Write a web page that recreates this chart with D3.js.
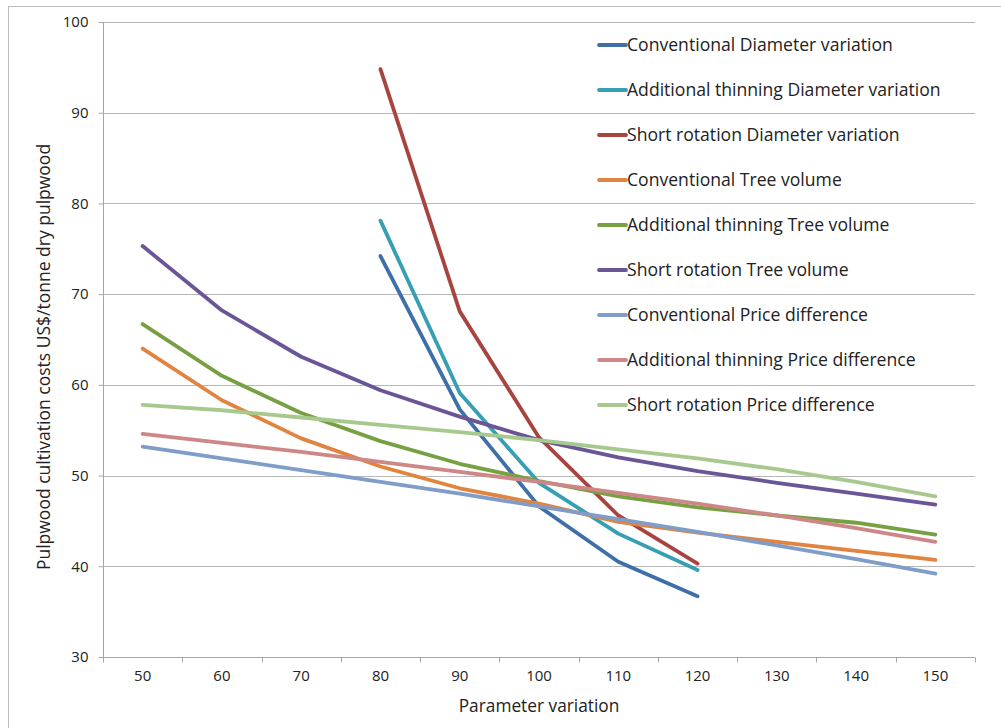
<!DOCTYPE html>
<html>
<head>
<meta charset="utf-8">
<script src="https://cdn.jsdelivr.net/npm/d3@7"></script>
<style>
  body { margin: 0; background: #fff; }
  text { font-family: "Open Sans", sans-serif; fill: #222; }
</style>
</head>
<body>
<div class="chart-box"></div>
<script>
let width = 1001, height = 728;

// data
let categories = [50, 60, 70, 80, 90, 100, 110, 120, 130, 140, 150];
let yTicks = [30, 40, 50, 60, 70, 80, 90, 100];

let convDiameter   = [null, null, null, 74.2, 57.3, 46.6, 40.5, 36.7, null, null, null];
let addDiameter    = [null, null, null, 78.1, 59.1, 49.2, 43.6, 39.6, null, null, null];
let shortDiameter  = [null, null, null, 94.8, 68.1, 54.2, 45.6, 40.3, null, null, null];
let convVolume     = [64.0, 58.3, 54.1, 51.0, 48.6, 46.9, 44.9, 43.7, 42.7, 41.7, 40.7];
let addVolume      = [66.7, 61.0, 56.9, 53.8, 51.3, 49.4, 47.7, 46.5, 45.6, 44.8, 43.5];
let shortVolume    = [75.3, 68.2, 63.1, 59.4, 56.5, 53.9, 52.0, 50.5, 49.2, 48.0, 46.8];
let convPrice      = [53.2, 51.9, 50.6, 49.3, 48.0, 46.6, 45.2, 43.8, 42.3, 40.8, 39.2];
let addPrice       = [54.6, 53.6, 52.6, 51.5, 50.4, 49.3, 48.1, 46.9, 45.6, 44.2, 42.7];
let shortPrice     = [57.8, 57.2, 56.4, 55.6, 54.8, 53.9, 52.9, 51.9, 50.7, 49.3, 47.7];

let seriesNames = [
  "Conventional Diameter variation",
  "Additional thinning Diameter variation",
  "Short rotation Diameter variation",
  "Conventional Tree volume",
  "Additional thinning Tree volume",
  "Short rotation Tree volume",
  "Conventional Price difference",
  "Additional thinning Price difference",
  "Short rotation Price difference"
];
let seriesValues = [convDiameter, addDiameter, shortDiameter, convVolume, addVolume,
  shortVolume, convPrice, addPrice, shortPrice];
let seriesColors = ["#3f6fa8", "#379fb4", "#a8443f", "#e0843f", "#77a043",
  "#6a5597", "#809dca", "#cd8786", "#a7c98d"];

let series = seriesNames.map(function (name, i) {
  return { name: name, color: seriesColors[i], values: seriesValues[i] };
});

let margin = { left: 103, right: 26, top: 22, bottom: 71 };

let svg = d3.select('.chart-box')
  .append('svg')
  .attr('width', width)
  .attr('height', height);

// chart outer border
svg.append("rect")
  .attr("x", 8.5).attr("y", 6.5)
  .attr("width", width + 20).attr("height", height + 20)
  .attr("fill", "none")
  .attr("stroke", "#bdbdbd");

let x = d3.scaleBand()
  .domain(categories)
  .range([margin.left, width - margin.right]);

let y = d3.scaleLinear()
  .domain([30, 100])
  .range([height - margin.bottom, margin.top]);

// gridlines
svg.append("g")
  .attr("class", "grid")
  .selectAll("line")
  .data(yTicks.slice(1))
  .enter()
  .append("line")
  .attr("x1", margin.left)
  .attr("x2", width - margin.right)
  .attr("y1", function (d) { return Math.round(y(d)) + 0.5; })
  .attr("y2", function (d) { return Math.round(y(d)) + 0.5; })
  .attr("stroke", "#b8b8b8")
  .attr("stroke-width", 1);

// y axis
let yAxis = svg.append("g")
  .attr("transform", "translate(" + (margin.left + 0.5) + ",0)")
  .call(d3.axisLeft(y).tickValues(yTicks).tickSize(5).tickPadding(10));

// x axis with ticks between categories
let xAxis = svg.append("g")
  .attr("transform", "translate(0," + (Math.round(y(30)) + 0.5) + ")")
  .call(d3.axisBottom(x).tickSize(0).tickPadding(13));

let bounds = categories.map(function (c) { return x(c); }).concat([x.range()[1]]);
xAxis.selectAll(".between")
  .data(bounds)
  .enter()
  .append("line")
  .attr("class", "between")
  .attr("x1", function (d) { return Math.round(d) + 0.5; })
  .attr("x2", function (d) { return Math.round(d) + 0.5; })
  .attr("y1", 0)
  .attr("y2", 5)
  .attr("stroke", "#a6a6a6");

[xAxis, yAxis].forEach(function (a) {
  a.selectAll(".domain").attr("stroke", "#a6a6a6");
  a.selectAll(".tick line").attr("stroke", "#a6a6a6");
  a.selectAll("text")
    .style("font-family", "'Open Sans', sans-serif")
    .style("font-size", "15px")
    .attr("fill", "#222");
});
yAxis.select(".domain").attr("d", "M0," + y(30) + "V" + y(100));
xAxis.select(".domain").attr("d", "M" + margin.left + ",0H" + (width - margin.right));

// lines
let line = d3.line()
  .defined(function (d) { return d.v != null; })
  .x(function (d) { return x(d.c) + x.bandwidth() / 2; })
  .y(function (d) { return y(d.v); });

svg.append("g")
  .attr("class", "lines")
  .selectAll("path")
  .data(series)
  .enter()
  .append("path")
  .attr("d", function (s) {
    return line(s.values.map(function (v, i) { return { c: categories[i], v: v }; }));
  })
  .attr("fill", "none")
  .attr("stroke", function (s) { return s.color; })
  .attr("stroke-width", 3.8)
  .attr("stroke-linecap", "round")
  .attr("stroke-linejoin", "round");

// legend
let legend = svg.append("g")
  .attr("class", "legend")
  .selectAll("g")
  .data(series)
  .enter()
  .append("g")
  .attr("transform", function (d, i) { return "translate(599," + (45 + i * 45) + ")"; });

legend.append("line")
  .attr("x1", 0).attr("x2", 27)
  .attr("stroke", function (d) { return d.color; })
  .attr("stroke-width", 3.8)
  .attr("stroke-linecap", "round");

legend.append("text")
  .attr("x", 28)
  .attr("dy", "0.35em")
  .style("font-size", "17.6px")
  .text(function (d) { return d.name; });

// axis titles
svg.append("text")
  .attr("x", x.range()[0] + (x.range()[1] - x.range()[0]) / 2)
  .attr("y", 712)
  .attr("text-anchor", "middle")
  .style("font-size", "17.3px")
  .text("Parameter variation");

svg.append("text")
  .attr("transform", "translate(50,357) rotate(-90)")
  .attr("text-anchor", "middle")
  .style("font-size", "17.5px")
  .text("Pulpwood cultivation costs US$/tonne dry pulpwood");
</script>
</body>
</html>
